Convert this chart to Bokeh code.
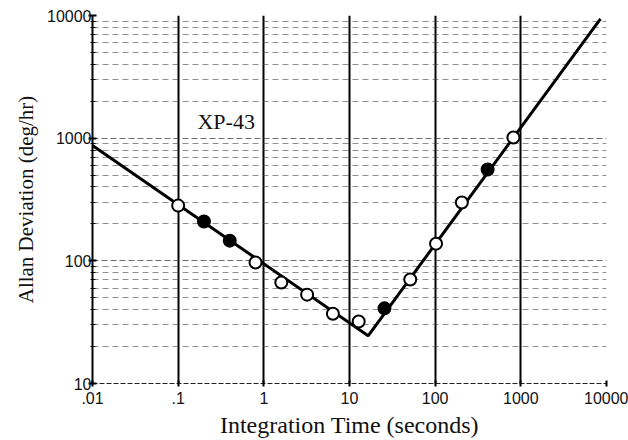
from bokeh.plotting import figure
from bokeh.models import Range1d, FixedTicker, Label
from bokeh.embed import file_html
from bokeh.resources import INLINE

# ---- data ----
x_ticks = [0.01, 0.1, 1, 10, 100, 1000, 10000]
x_tick_labels = [".01", ".1", "1", "10", "100", "1000", "10000"]
y_ticks = [10, 100, 1000, 10000]
y_tick_labels = ["10", "100", "1000", "10000"]
y_minor = [m * d for d in (10, 100, 1000) for m in range(2, 10)]

fit_tau = [0.01, 16.5, 8500]
fit_adev = [870, 24.5, 9400]

open_tau = [0.1, 0.8, 1.6, 3.2, 6.4, 12.8, 51.2, 102.4, 204.8, 819.2]
open_adev = [282, 97, 66.5, 53, 37, 32, 70.5, 138, 299, 1012]
solid_tau = [0.2, 0.4, 25.6, 409.6]
solid_adev = [209, 146, 41, 555]

device_name = "XP-43"
device_tau = 0.168
device_adev = 1365

serif = "Liberation Serif"
sans = "Liberation Sans"

p = figure(width=628, height=440, x_axis_type="log", y_axis_type="log",
           x_range=Range1d(0.01, 10000), y_range=Range1d(10, 10000),
           output_backend="svg", toolbar_location=None,
           min_border_left=92, min_border_right=22, min_border_top=15,
           min_border_bottom=57)
p.outline_line_color = None
p.background_fill_color = "white"

p.xaxis.ticker = FixedTicker(ticks=x_ticks)
p.yaxis.ticker = FixedTicker(ticks=y_ticks, minor_ticks=y_minor)
p.xaxis.major_label_overrides = {t: l for t, l in zip(x_ticks, x_tick_labels)}
p.yaxis.major_label_overrides = {t: l for t, l in zip(y_ticks, y_tick_labels)}

p.xaxis.axis_label = "Integration Time (seconds)"
p.yaxis.axis_label = "Allan Deviation (deg/hr)"
for ax in (p.xaxis, p.yaxis):
    ax.axis_label_text_font = serif
    ax.axis_label_text_font_style = "normal"
    ax.axis_label_text_color = "#111111"
    ax.major_label_text_font = sans
    ax.major_label_text_font_size = "16px"
    ax.major_label_text_color = "#111111"
p.xaxis.axis_label_text_font_size = "24px"
p.yaxis.axis_label_text_font_size = "21px"
p.xaxis.axis_label_standoff = 5
p.yaxis.axis_label_standoff = 6

p.yaxis.axis_line_color = "black"
p.yaxis.axis_line_width = 2
p.yaxis.major_tick_in = 4
p.yaxis.major_tick_out = 4
p.yaxis.major_tick_line_width = 2
p.yaxis.minor_tick_in = 3
p.yaxis.minor_tick_out = 2
p.yaxis.minor_tick_line_width = 1
p.yaxis.major_label_standoff = -3

p.xaxis.axis_line_color = "#222222"
p.xaxis.axis_line_dash = "5 2"
p.xaxis.axis_line_width = 1
p.xaxis.major_tick_in = 3
p.xaxis.major_tick_out = 3
p.xaxis.major_tick_line_width = 2
p.xaxis.minor_tick_line_color = None
p.xaxis.major_label_standoff = 5

p.xgrid.grid_line_color = "black"
p.xgrid.grid_line_width = 2
p.xgrid.grid_line_alpha = 1.0

p.ygrid.grid_line_color = "#333333"
p.ygrid.grid_line_width = 1
p.ygrid.grid_line_dash = "6 3"
p.ygrid.grid_line_alpha = 0.7
p.ygrid.minor_grid_line_color = "#444444"
p.ygrid.minor_grid_line_width = 1
p.ygrid.minor_grid_line_dash = "6 4"
p.ygrid.minor_grid_line_alpha = 0.6

p.line(fit_tau, fit_adev, line_color="black", line_width=3)
p.scatter(open_tau, open_adev, marker="circle", size=12,
          fill_color="white", line_color="black", line_width=2)
p.scatter(solid_tau, solid_adev, marker="circle", size=12,
          fill_color="black", line_color="black", line_width=2)

p.add_layout(Label(x=device_tau, y=device_adev, text=device_name,
                   text_font=serif, text_font_size="22px",
                   text_color="#111111", text_baseline="middle",
                   text_align="left"))

open("out.html", "w").write(file_html(p, INLINE))
